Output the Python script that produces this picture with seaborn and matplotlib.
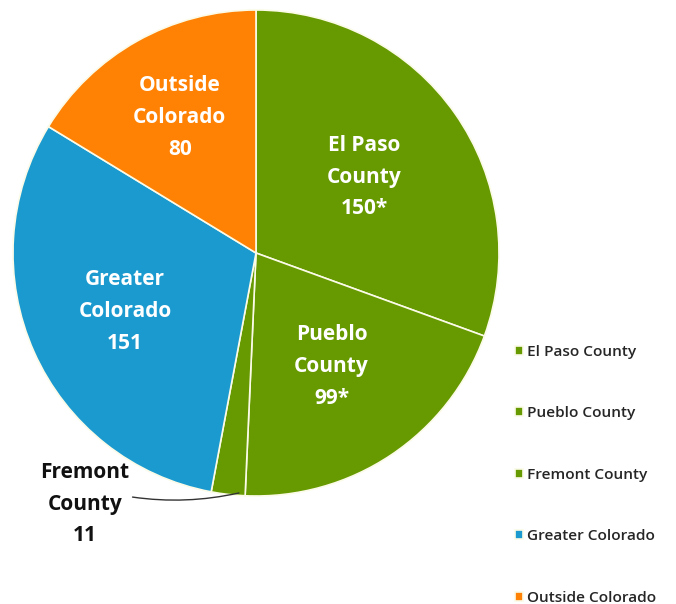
import numpy as np
import matplotlib.pyplot as plt
import seaborn as sns

sns.set_theme(style="white")
plt.rcParams['font.family'] = ['Open Sans', 'DejaVu Sans']

# data
regions = ["El Paso County", "Pueblo County", "Fremont County", "Greater Colorado", "Outside Colorado"]
counts = [150, 99, 11, 151, 80]
slice_labels = ["El Paso\nCounty\n150*", "Pueblo\nCounty\n99*", "Fremont\nCounty\n11",
                "Greater\nColorado\n151", "Outside\nColorado\n80"]

green = "#669a00"
blue = "#1b9ad0"
orange = "#ff8205"
colors = [green, green, green, blue, orange]

fig = plt.figure(figsize=(6.76, 6.04), dpi=100)
# square axes in pixels: radius ~243px, centre ~(256, 253)
ax = fig.add_axes([13/676, 108/604, 486/676, 486/604])

wedges, _ = ax.pie(counts, colors=colors, startangle=90, counterclock=False,
                   radius=1, wedgeprops=dict(edgecolor="#fbfbe8", linewidth=1.2))
ax.set_xlim(-1, 1)
ax.set_ylim(-1, 1)
ax.axis("off")

# in-slice labels
label_r = [0.545, 0.56, None, 0.59, 0.64]
for w, lab, r in zip(wedges, slice_labels, label_r):
    if r is None:
        continue
    ang = np.deg2rad((w.theta1 + w.theta2) / 2)
    ax.text(r * np.cos(ang), r * np.sin(ang), lab, ha="center", va="center",
            color="white", fontsize=15, fontweight="bold", linespacing=1.68)

# Fremont label outside with leader line
fw = wedges[2]
ang = np.deg2rad(fw.theta2 - 1.5)
ax.annotate(slice_labels[2], xy=(np.cos(ang) * 0.99, np.sin(ang) * 0.99),
            xytext=(-0.705, -1.033), textcoords="data",
            ha="center", va="center", fontsize=15, fontweight="bold",
            color="#111111", linespacing=1.68, annotation_clip=False,
            arrowprops=dict(arrowstyle="-", color="#333333", lw=1,
                            shrinkA=0, shrinkB=0,
                            connectionstyle="arc3,rad=0.1",
                            relpos=(0.93, 0.6)))

fig.legend(wedges, regions, loc="upper left", bbox_to_anchor=(501/676, 1 - 331/604),
           frameon=False, labelspacing=3.08,
           handlelength=0.5, handleheight=0.5, handletextpad=0.3,
           prop=dict(weight="semibold", size=11.1))

fig.savefig("out.png", dpi=100)
